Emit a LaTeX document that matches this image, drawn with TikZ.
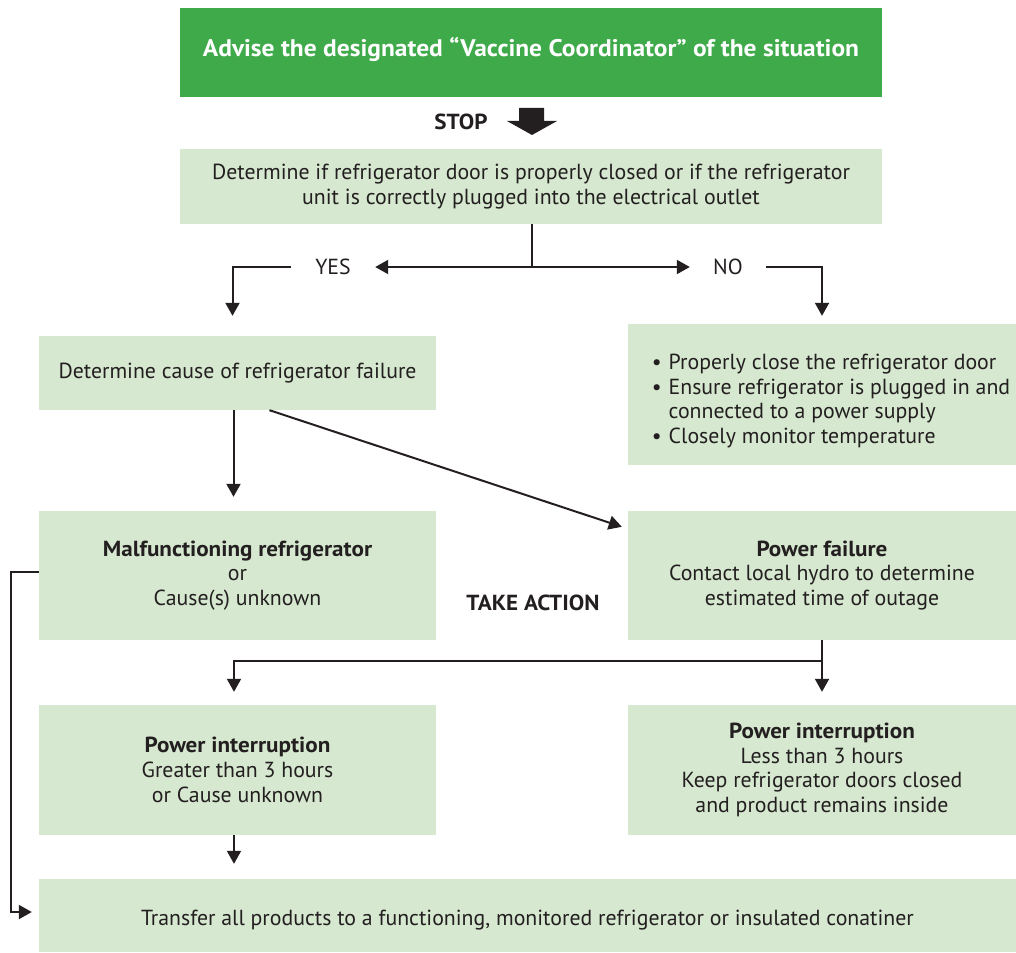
\documentclass[tikz,border=0pt]{standalone}
\usepackage{fontspec}
\setmainfont{PT Sans}[BoldFeatures={FakeStretch=1.06}]
\usetikzlibrary{arrows.meta}
\definecolor{boxgreen}{RGB}{214,232,207}
\definecolor{headgreen}{RGB}{62,170,74}
\definecolor{ink}{RGB}{35,31,32}

\begin{document}
\begin{tikzpicture}[
                        x=1pt, y=-1pt,
                        >={Triangle[length=13pt,width=14pt]},
                        every node/.style={font=\fontsize{21.8}{24.8}\selectfont, text=ink},
                        box/.style={rectangle, fill=boxgreen, align=center, inner sep=0pt},
                        arr/.style={->, draw=ink, line width=2pt},
                        ln/.style={draw=ink, line width=2pt}
                    ]
                    \useasboundingbox (0,0) rectangle (1016,952);
                    % Blocks
                    \node [box, fill=headgreen, minimum width=702pt, minimum height=89pt, text=white, font=\fontsize{24}{26}\selectfont\bfseries] (advise) at (531,52.5) {\raisebox{3pt}[\height][\depth]{Advise the designated “Vaccine Coordinator” of the situation}};
                    \node [font=\fontsize{21.8}{24.8}\selectfont\bfseries] (stop) at (461,122) {STOP};
                    \fill [ink] (519,108) -- (544,108) -- (544,121) -- (557,121) -- (532,135) -- (507,121) -- (519,121) -- cycle;
                    \node [box, minimum width=702pt, minimum height=75pt] (check) at (531,186.5) {Determine if refrigerator door is properly closed or if the refrigerator\\unit is correctly plugged into the electrical outlet};
                    \coordinate (split) at (532,267);
                    \node [minimum width=84pt, inner sep=0pt] (yes) at (333,267) {YES};
                    \node [minimum width=76pt, inner sep=0pt] (no) at (728,267) {NO};
                    \node [box, minimum width=397pt, minimum height=74pt] (cause) at (237.5,373) {Determine cause of refrigerator failure};
                    \node [box, minimum width=388pt, minimum height=141pt] (fix) at (822,394.5) {\raisebox{-7pt}[\height][\depth]{\begin{tabular}{@{\hspace{18pt}}l@{\hspace{7pt}}l@{}}
                        \textbullet & Properly close the refrigerator door\\
                        \textbullet & Ensure refrigerator is plugged in and\\
                         & connected to a power supply\\
                        \textbullet & Closely monitor temperature
                    \end{tabular}}};
                    \node [box, minimum width=397pt, minimum height=129pt] (malf) at (237.5,575.5) {\textbf{Malfunctioning refrigerator}\\or\\Cause(s) unknown};
                    \node [box, minimum width=388pt, minimum height=129pt] (power) at (822,575.5) {\textbf{Power failure}\\Contact local hydro to determine\\estimated time of outage};
                    \node [font=\fontsize{21.8}{24.8}\selectfont\bfseries] (action) at (533,603) {TAKE ACTION};
                    \coordinate (branch) at (822,661);
                    \node [box, minimum width=397pt, minimum height=130pt] (longint) at (237.5,770) {\textbf{Power interruption}\\Greater than 3 hours\\or Cause unknown};
                    \node [box, minimum width=388pt, minimum height=130pt] (shortint) at (822,770) {\textbf{Power interruption}\\Less than 3 hours\\Keep refrigerator doors closed\\and product remains inside};
                    \node [box, minimum width=977pt, minimum height=73pt] (transfer) at (527.5,915.5) {\raisebox{-4.5pt}[\height][\depth]{Transfer all products to a functioning, monitored refrigerator or insulated conatiner}};

                    % Connections
                    \draw [ln] (check.south -| split) -- (split);
                    \draw [arr] (split) -- (yes);
                    \draw [arr] (split) -- (no);
                    \draw [arr, shorten >=20pt] (yes.west) -| ([xshift=-5pt]cause.north);
                    \draw [arr, shorten >=8pt] (no.east) -| (fix.north);
                    \draw [arr, shorten >=14pt] ([xshift=-4pt]cause.south) -- ([xshift=-4pt]malf.north);
                    \draw [arr] ([xshift=32pt]cause.south) -- ([xshift=-6pt,yshift=-16pt]power.north west);
                    \draw [arr, shorten >=13pt] (power.south) -- (shortint.north);
                    \draw [arr, shorten >=13pt] (branch) -| ([xshift=-3.5pt]longint.north);
                    \draw [arr, shorten >=15pt] ([xshift=-3.5pt]longint.south) -- ([xshift=-3.5pt]longint.south |- transfer.north);
                    \draw [arr, shorten >=7pt] ([yshift=4pt]malf.west) -- ++(-28,0) |- ([yshift=3.5pt]transfer.west);
                \end{tikzpicture}
\end{document}
